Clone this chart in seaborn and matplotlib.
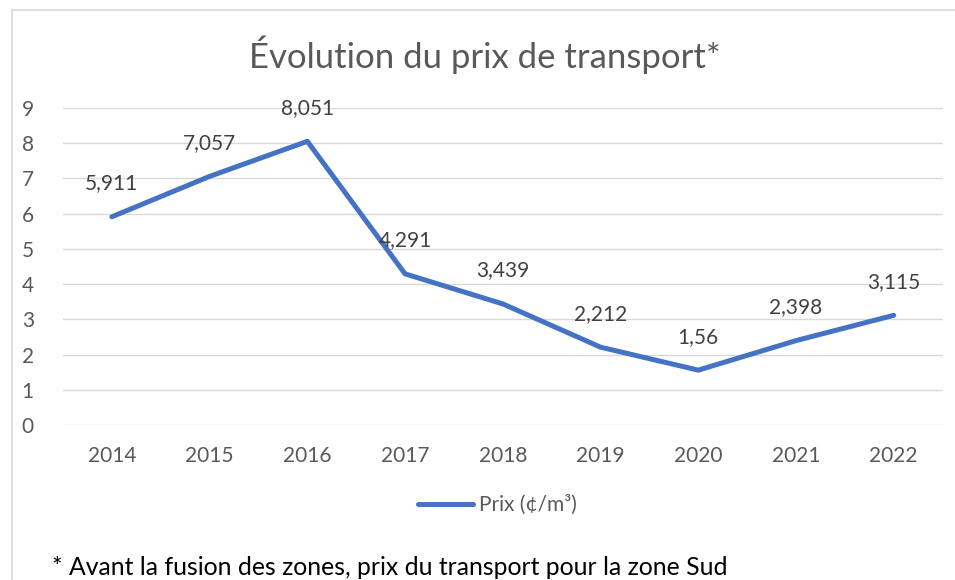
import matplotlib
matplotlib.use("Agg")
import matplotlib.pyplot as plt
import seaborn as sns
import pandas as pd
from matplotlib.lines import Line2D

years = ["2014", "2015", "2016", "2017", "2018", "2019", "2020", "2021", "2022"]
prices = [5.911, 7.057, 8.051, 4.291, 3.439, 2.212, 1.56, 2.398, 3.115]
labels = ["5,911", "7,057", "8,051", "4,291", "3,439", "2,212", "1,56", "2,398", "3,115"]
yticks = [0, 1, 2, 3, 4, 5, 6, 7, 8, 9]

sns.set_theme(style="white")
plt.rcParams["font.family"] = ["Lato", "DejaVu Sans"]

df = pd.DataFrame({"Année": years, "Prix": prices})
df["x"] = range(len(years))

fig = plt.figure(figsize=(9.55, 5.8), dpi=100)
ax = fig.add_axes([0.066, 0.267, 0.921, 0.547])
col = "#4472C4"
sns.lineplot(data=df, x="x", y="Prix", ax=ax, color=col, linewidth=3.6,
             solid_capstyle="round", solid_joinstyle="round", legend=False)
ax.set_xlim(-0.5, len(years) - 0.5)
ax.set_ylim(0, 9)
ax.set_yticks(yticks)
ax.set_xticks(df["x"])
ax.set_xticklabels(years)
ax.yaxis.grid(True, color="#D9D9D9", linewidth=1.0)
ax.set_axisbelow(True)
for s in ax.spines.values():
    s.set_visible(False)
ax.tick_params(axis="both", length=0, labelsize=15, labelcolor="#595959")
ax.tick_params(axis="x", pad=15)
ax.tick_params(axis="y", pad=21)
ax.set_xlabel("")
ax.set_ylabel("")

for xi, v, lab in zip(df["x"], prices, labels):
    ax.annotate(lab, (xi, v), xytext=(0, 24), textcoords="offset points",
                ha="center", va="center", fontsize=15, color="#404040")

fig.text(0.508, 0.905, "Évolution du prix de transport*", ha="center", va="center",
         fontsize=25, color="#595959")

h = Line2D([0], [0], color=col, linewidth=3.6, solid_capstyle="round")
fig.legend([h], ["Prix (¢/m³)"], loc="center", bbox_to_anchor=(0.521, 0.129),
           frameon=False, fontsize=15, labelcolor="#595959", handlelength=2.6,
           handletextpad=0.3)

fig.text(0.054, 0.022, "* Avant la fusion des zones, prix du transport pour la zone Sud",
         ha="left", va="center", fontsize=17.8, color="#000000")

fig.add_artist(Line2D([12 / 955, 12 / 955], [0, 1 - 10 / 580], transform=fig.transFigure,
                      color="#D9D9D9", linewidth=1.2))
fig.add_artist(Line2D([12 / 955, 1], [1 - 10 / 580, 1 - 10 / 580], transform=fig.transFigure,
                      color="#D9D9D9", linewidth=1.2))

fig.savefig("out.png", dpi=100)
